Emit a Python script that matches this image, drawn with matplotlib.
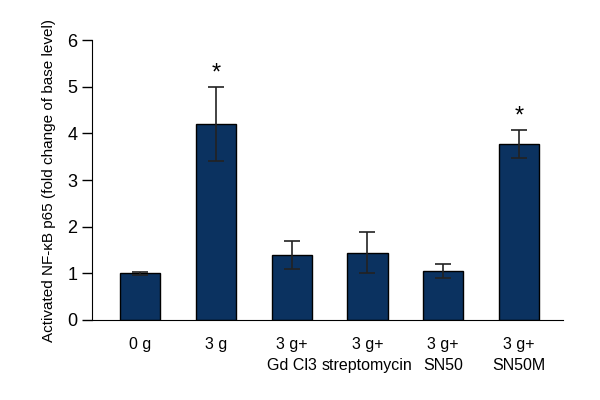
import numpy as np
import matplotlib
matplotlib.use("Agg")
import matplotlib.pyplot as plt

plt.rcParams['font.family'] = ['Liberation Sans', 'DejaVu Sans']

groups = ['0 g', '3 g', '3 g+\nGd Cl3', '3 g+\nstreptomycin', '3 g+\nSN50', '3 g+\nSN50M']
values = [1.0, 4.2, 1.4, 1.44, 1.05, 3.77]
errors = [0.03, 0.8, 0.3, 0.44, 0.16, 0.3]
significant = [False, True, False, False, False, True]

fig = plt.figure(figsize=(6, 4), dpi=100)
ax = fig.add_axes([0.153, 0.2, 0.785, 0.7])

x = np.arange(len(groups))
ax.bar(x, values, width=0.53, color='#0b3260', edgecolor='black', linewidth=1.0,
       yerr=errors, capsize=6, error_kw=dict(ecolor='#222222', elinewidth=1.2, capthick=1.2))

for xi, v, e, s in zip(x, values, errors, significant):
    if s:
        ax.text(xi, v + e + 0.05, '*', ha='center', va='bottom', fontsize=17)

ax.set_xlim(-0.64, 5.58)
ax.set_ylim(0, 6)
ax.set_yticks(range(7))
ax.set_xticks(x)
ax.set_xticklabels(groups, fontsize=11.5, linespacing=1.5)
ax.tick_params(axis='x', length=0, pad=12)
ax.tick_params(axis='y', labelsize=13, length=7, width=1, direction='out')
ax.set_ylabel('Activated NF-κB p65 (fold change of base level)', fontsize=11, labelpad=8)

ax.spines['top'].set_visible(False)
ax.spines['right'].set_visible(False)

fig.savefig('out.png', dpi=100, facecolor='white')
